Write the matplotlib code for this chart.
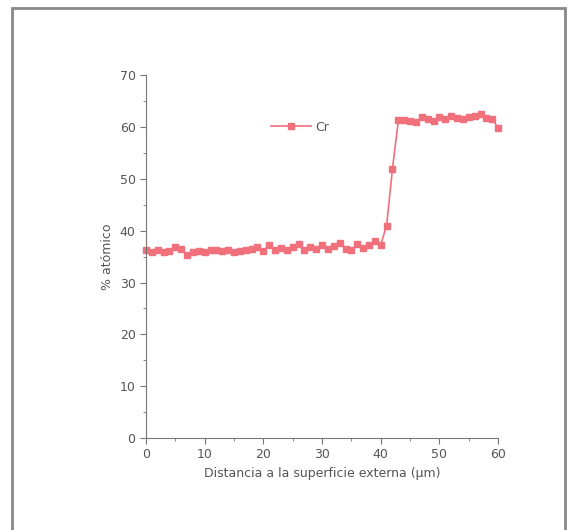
import matplotlib.pyplot as plt
from matplotlib.patches import Rectangle
from matplotlib.ticker import MultipleLocator

# perfil de Cr
distancia = list(range(0, 61))
cr = [36.2, 35.8, 36.3, 35.9, 36.1, 36.8, 36.5, 35.4, 35.8, 36.0,
      35.9, 36.2, 36.3, 36.1, 36.2, 35.9, 36.0, 36.3, 36.5, 36.8,
      36.1, 37.3, 36.2, 36.6, 36.3, 36.9, 37.4, 36.3, 36.8, 36.5,
      37.3, 36.4, 37.0, 37.6, 36.5, 36.3, 37.4, 36.6, 37.2, 38.0,
      37.3, 41.0, 52.0, 61.3, 61.4, 61.2, 61.0, 62.0, 61.5, 61.2,
      62.0, 61.6, 62.2, 61.8, 61.5, 61.9, 62.1, 62.6, 61.7, 61.6,
      59.8]

x_ticks = [0, 10, 20, 30, 40, 50, 60]
y_ticks = [0, 10, 20, 30, 40, 50, 60, 70]

color = "#f0707c"
gris = "#555555"

fig = plt.figure(figsize=(5.68, 5.30), dpi=100)
ax = fig.add_axes([0.257, 0.1736, 0.62, 0.6844])

ax.plot(distancia, cr, color=color, marker="s", markersize=4, linewidth=1.2,
        label="Cr", clip_on=False)

ax.set_xlim(0, 60)
ax.set_ylim(0, 70)
ax.set_xticks(x_ticks)
ax.set_yticks(y_ticks)
ax.xaxis.set_minor_locator(MultipleLocator(5))
ax.yaxis.set_minor_locator(MultipleLocator(5))
ax.spines["top"].set_visible(False)
ax.spines["right"].set_visible(False)
for s in ["left", "bottom"]:
    ax.spines[s].set_color("#777777")
ax.tick_params(which="both", direction="out", colors="#777777", labelcolor=gris,
               labelsize=9)
ax.tick_params(which="major", length=4)
ax.tick_params(which="minor", length=2.5)

ax.set_xlabel("Distancia a la superficie externa (μm)", color=gris, fontsize=9)
ax.set_ylabel("% atómico", color=gris, fontsize=9)

ax.legend(loc="center left", bbox_to_anchor=(0.34, 0.857), frameon=False,
          fontsize=9, labelcolor=gris, handlelength=3.2, handletextpad=0.4,
          borderaxespad=0)

fig.patches.append(Rectangle((12 / 568, -0.05), 553 / 568, 1 - 8 / 530 + 0.05,
                             transform=fig.transFigure, fill=False,
                             edgecolor="#888888", linewidth=2))

fig.savefig("out.png", dpi=100)
